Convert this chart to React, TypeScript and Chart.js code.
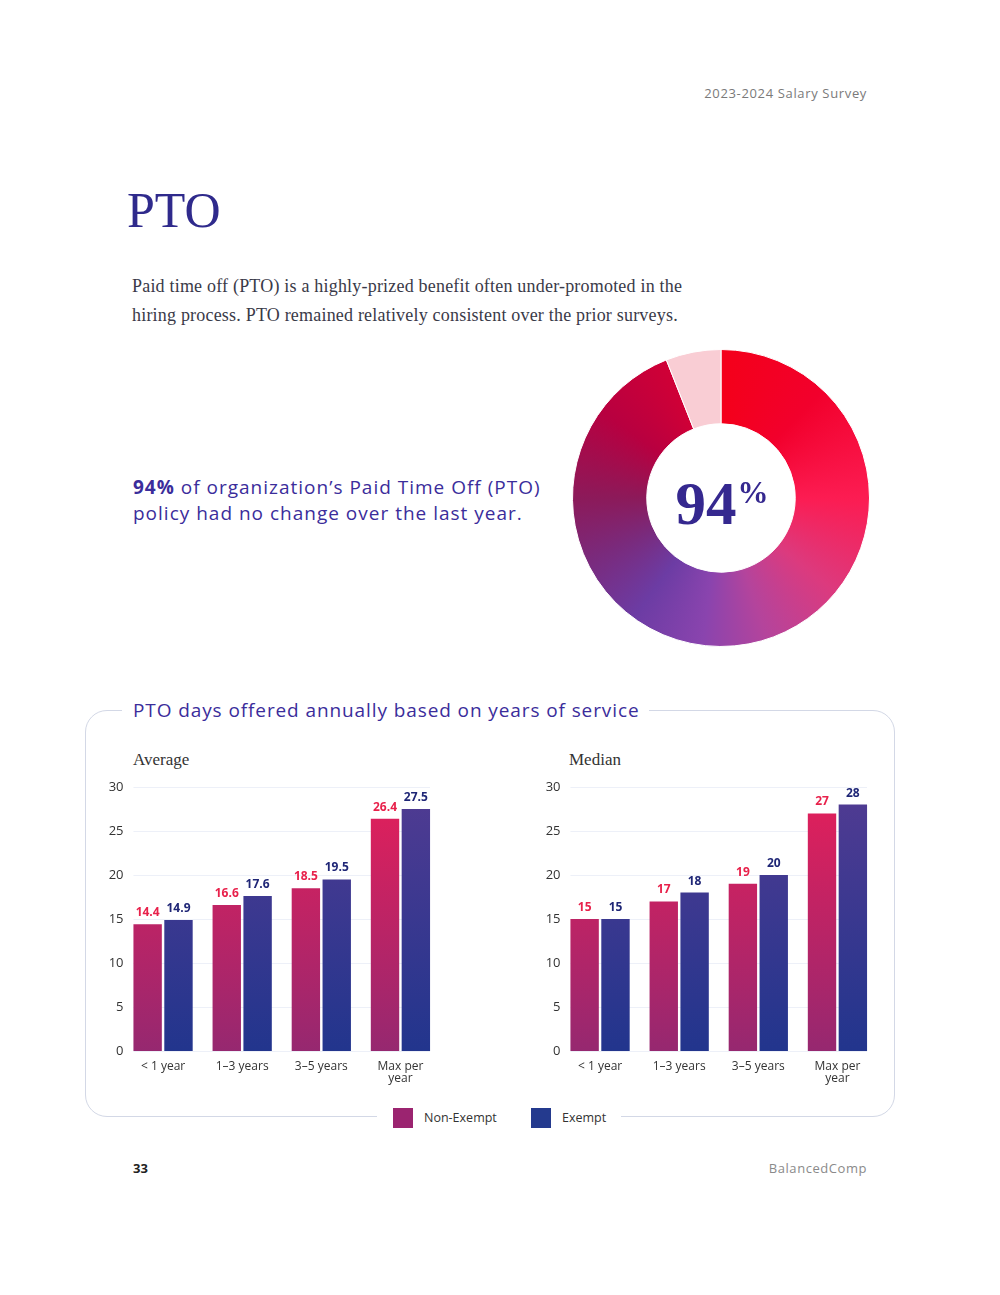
import React, { useEffect, useRef } from "react";
import { Chart, registerables } from "chart.js";

Chart.register(...registerables);

// ---------- data ----------
const categoryLabels: string[][] = [["< 1 year"], ["1–3 years"], ["3–5 years"], ["Max per", "year"]];
const seriesNames = ["Non-Exempt", "Exempt"];
const averageNonExempt = [14.4, 16.6, 18.5, 26.4];
const averageExempt = [14.9, 17.6, 19.5, 27.5];
const medianNonExempt = [15, 17, 19, 27];
const medianExempt = [15, 18, 20, 28];
const yTicks = [0, 5, 10, 15, 20, 25, 30];
const donutLabels = ["No change", "Changed"];
const donutValues = [94, 6];

// ---------- styles ----------
const SANS = "'Open Sans', 'DejaVu Sans', sans-serif";
const SERIF = "'Liberation Serif', 'DejaVu Serif', serif";
const INK = "#35288f";
const NONEX_LABEL = "#e8214b";
const EX_LABEL = "#1f2676";

function vGrad(chart: any, top: string, bottom: string) {
  const { ctx, chartArea } = chart;
  if (!chartArea) return top;
  const g = ctx.createLinearGradient(0, chartArea.top, 0, chartArea.bottom);
  g.addColorStop(0, top);
  g.addColorStop(1, bottom);
  return g;
}

const gridPlugin = {
  id: "customGrid",
  beforeDatasetsDraw(chart: any) {
    const y = chart.scales.y;
    const m0 = chart.getDatasetMeta(0).data;
    const m1 = chart.getDatasetMeta(1).data;
    if (!m0.length || !m1.length) return;
    const left = m0[0].x - m0[0].width / 2;
    const last = m1[m1.length - 1];
    const right = last.x + last.width / 2;
    const ctx = chart.ctx;
    ctx.save();
    ctx.strokeStyle = "#edf0f8";
    ctx.lineWidth = 1;
    yTicks.forEach((v) => {
      const py = Math.round(y.getPixelForValue(v)) + 0.5;
      ctx.beginPath();
      ctx.moveTo(left, py);
      ctx.lineTo(right, py);
      ctx.stroke();
    });
    ctx.restore();
  },
};

const valueLabelPlugin = {
  id: "valueLabels",
  afterDatasetsDraw(chart: any) {
    const ctx = chart.ctx;
    ctx.save();
    ctx.font = `700 12px ${SANS}`;
    ctx.textAlign = "center";
    ctx.textBaseline = "alphabetic";
    chart.data.datasets.forEach((ds: any, di: number) => {
      const meta = chart.getDatasetMeta(di);
      ctx.fillStyle = di === 0 ? NONEX_LABEL : EX_LABEL;
      meta.data.forEach((bar: any, i: number) => {
        ctx.fillText(String(ds.data[i]), bar.x, bar.y - 8);
      });
    });
    ctx.restore();
  },
};

function BarChart(props: { nonExempt: number[]; exempt: number[]; left: number; top: number }) {
  const ref = useRef<HTMLCanvasElement>(null);
  useEffect(() => {
    if (!ref.current) return;
    const chart = new Chart(ref.current, {
      type: "bar",
      data: {
        labels: categoryLabels as any,
        datasets: [
          {
            label: seriesNames[0],
            data: props.nonExempt,
            backgroundColor: (c: any) => vGrad(c.chart, "#e41f5a", "#962870"),
            categoryPercentage: 0.78,
            barPercentage: 0.92,
          },
          {
            label: seriesNames[1],
            data: props.exempt,
            backgroundColor: (c: any) => vGrad(c.chart, "#513b92", "#22358d"),
            categoryPercentage: 0.78,
            barPercentage: 0.92,
          },
        ],
      },
      options: {
        animation: false,
        responsive: false,
        maintainAspectRatio: false,
        layout: { padding: { top: 17, right: 0, bottom: 0, left: 0 } },
        plugins: { legend: { display: false }, tooltip: { enabled: false } },
        scales: {
          x: {
            grid: { display: false, drawTicks: false },
            border: { display: false },
            ticks: {
              color: "#333",
              font: { family: SANS, size: 12, lineHeight: 1.0 },
              padding: 10,
              maxRotation: 0,
              autoSkip: false,
            },
            afterFit: (s: any) => {
              s.height = 40;
            },
          },
          y: {
            min: 0,
            max: 30,
            grid: { display: false, drawTicks: false },
            border: { display: false },
            ticks: { color: "#333", font: { family: SANS, size: 13 }, padding: 0 },
            afterBuildTicks: (s: any) => {
              s.ticks = yTicks.map((v) => ({ value: v }));
            },
            afterFit: (s: any) => {
              s.width = 43.5;
            },
          },
        },
      },
      plugins: [gridPlugin, valueLabelPlugin],
    } as any);
    return () => chart.destroy();
  }, []);
  return (
    <canvas
      ref={ref}
      width={360}
      height={321}
      style={{ position: "absolute", left: props.left, top: props.top, width: 360, height: 321 }}
    />
  );
}

function Donut() {
  const ref = useRef<HTMLCanvasElement>(null);
  useEffect(() => {
    if (!ref.current) return;
    const chart = new Chart(ref.current, {
      type: "doughnut",
      data: {
        labels: donutLabels,
        datasets: [
          {
            data: donutValues,
            borderWidth: 1,
            borderColor: "#ffffff",
            backgroundColor: (c: any) => {
              if (c.dataIndex === 1) return "#f9cdd4";
              const { ctx, chartArea } = c.chart;
              if (!chartArea || !ctx.createConicGradient) return "#d0103f";
              const cx = (chartArea.left + chartArea.right) / 2;
              const cy = (chartArea.top + chartArea.bottom) / 2;
              const g = ctx.createConicGradient(-Math.PI / 2, cx, cy);
              g.addColorStop(0.0, "#f4001a");
              g.addColorStop(0.12, "#f2002c");
              g.addColorStop(0.25, "#fc1c52");
              g.addColorStop(0.36, "#dc3a7e");
              g.addColorStop(0.45, "#b4449c");
              g.addColorStop(0.52, "#8a44ae");
              g.addColorStop(0.6, "#6c3ca4");
              g.addColorStop(0.68, "#7a2a7c");
              g.addColorStop(0.75, "#8c1a5a");
              g.addColorStop(0.85, "#b80040");
              g.addColorStop(0.94, "#d00036");
              g.addColorStop(1.0, "#d00036");
              return g;
            },
          },
        ],
      },
      options: {
        animation: false,
        responsive: false,
        maintainAspectRatio: false,
        cutout: "50%",
        layout: { padding: 0 },
        plugins: { legend: { display: false }, tooltip: { enabled: false } },
      },
    } as any);
    return () => chart.destroy();
  }, []);
  return (
    <canvas
      ref={ref}
      width={298}
      height={298}
      style={{ position: "absolute", left: 572, top: 349, width: 298, height: 298 }}
    />
  );
}

const abs = (s: React.CSSProperties): React.CSSProperties => ({ position: "absolute", margin: 0, whiteSpace: "nowrap", ...s });

export default function App() {
  return (
    <div style={{ position: "absolute", left: 0, top: 0, width: 1000, height: 1295, background: "#fff", overflow: "hidden" }}>
      <div style={abs({ right: 133, top: 85, fontFamily: SANS, fontSize: 13, lineHeight: "16px", color: "#7a7a7a", letterSpacing: 0.65 })}>
        2023-2024 Salary Survey
      </div>

      <div style={abs({ left: 127, top: 185, fontFamily: SERIF, fontSize: 50, lineHeight: "50px", color: "#2f2a8c" })}>PTO</div>

      <div style={abs({ left: 132, top: 272, fontFamily: SERIF, fontSize: 18, lineHeight: "29px", color: "#3a3a48", letterSpacing: 0.2 })}>
        Paid time off (PTO) is a highly-prized benefit often under-promoted in the
        <br />
        hiring process. PTO remained relatively consistent over the prior surveys.
      </div>

      <div style={abs({ left: 133, top: 474, fontFamily: SANS, fontSize: 19, lineHeight: "26px", color: "#3b2d9b", letterSpacing: 1 })}>
        <b>94%</b> of organization’s Paid Time Off (PTO)
        <br />
        policy had no change over the last year.
      </div>

      <Donut />
      <div style={abs({ left: 622, top: 474, width: 200, textAlign: "center", fontFamily: SERIF, fontWeight: 700, fontSize: 61, lineHeight: "60px", color: INK })}>
        94<span style={{ fontSize: 31, position: "relative", top: -21, marginLeft: 1 }}>%</span>
      </div>

      {/* framed chart section */}
      <div style={abs({ left: 85, top: 710, width: 810, height: 407, boxSizing: "border-box", border: "1.5px solid #d3d8e6", borderRadius: 22 })} />
      <div style={abs({ left: 122, top: 698, paddingLeft: 11, paddingRight: 10, background: "#fff", fontFamily: SANS, fontSize: 19, lineHeight: "24px", color: "#3b2d9b", letterSpacing: 0.9 })}>
        PTO days offered annually based on years of service
      </div>
      <div style={abs({ left: 377, top: 1106, width: 244, height: 22, background: "#fff" })} />

      <div style={abs({ left: 133, top: 750, fontFamily: SERIF, fontSize: 17, lineHeight: "20px", color: "#333" })}>Average</div>
      <div style={abs({ left: 569, top: 750, fontFamily: SERIF, fontSize: 17, lineHeight: "20px", color: "#333" })}>Median</div>

      <BarChart nonExempt={averageNonExempt} exempt={averageExempt} left={80} top={770} />
      <BarChart nonExempt={medianNonExempt} exempt={medianExempt} left={517} top={770} />

      <div style={abs({ left: 393, top: 1108, width: 20, height: 20, background: "#9b2470" })} />
      <div style={abs({ left: 424, top: 1110, fontFamily: SANS, fontSize: 12.5, lineHeight: "16px", color: "#333" })}>{seriesNames[0]}</div>
      <div style={abs({ left: 531, top: 1108, width: 20, height: 20, background: "#243a8e" })} />
      <div style={abs({ left: 562, top: 1110, fontFamily: SANS, fontSize: 12.5, lineHeight: "16px", color: "#333" })}>{seriesNames[1]}</div>

      <div style={abs({ left: 133, top: 1160, fontFamily: SANS, fontWeight: 700, fontSize: 13, lineHeight: "16px", color: "#222" })}>33</div>
      <div style={abs({ right: 133, top: 1160, fontFamily: SANS, fontSize: 13, lineHeight: "16px", color: "#8a8a8a", letterSpacing: 0.55 })}>BalancedComp</div>
    </div>
  );
}
